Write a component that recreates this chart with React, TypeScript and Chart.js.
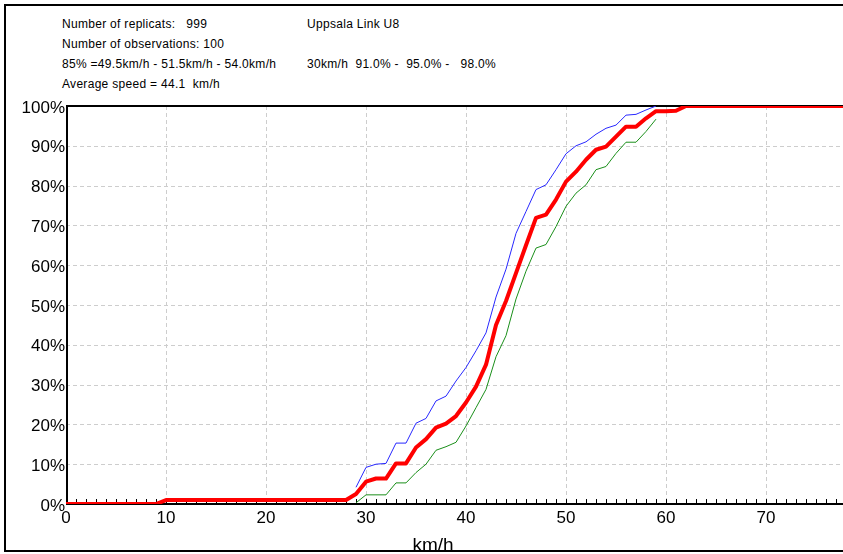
import React, { useEffect, useRef } from "react";
import { Chart, registerables } from "chart.js";

Chart.register(...registerables);

// ---- data ----
const medianSpeeds = [0, 9, 10, 28, 29, 30, 31, 32, 33, 34, 35, 36, 37, 38, 39, 40, 41, 42, 43, 44, 45, 46, 47, 48, 49, 50, 51, 52, 53, 54, 55, 56, 57, 58, 59, 60, 61, 62, 78];
const medianValues = [0, 0, 1, 1, 2.5, 5.6, 6.4, 6.4, 10.2, 10.2, 14.2, 16.3, 19.2, 20.2, 22.1, 25.5, 29.5, 35, 45, 51, 58, 65, 71.9, 72.7, 76.5, 81, 83.5, 86.5, 89, 89.8, 92.3, 94.8, 94.8, 96.9, 98.7, 98.7, 98.8, 100, 100];

const boundSpeeds = [29, 30, 31, 32, 33, 34, 35, 36, 37, 38, 39, 40, 41, 42, 43, 44, 45, 46, 47, 48, 49, 50, 51, 52, 53, 54, 55, 56, 57, 58, 59];
const upperValues = [4.2, 9.2, 10, 10.2, 15.3, 15.3, 20.3, 21.5, 25.9, 27.1, 30.9, 34.3, 38.5, 43, 52, 59, 68, 73.5, 79, 80.2, 84, 88, 90, 91, 92.9, 94.4, 95.2, 97.7, 97.9, 99, 100];
const lowerValues = [0.3, 2.3, 2.3, 2.3, 5.3, 5.3, 7.9, 10, 13.5, 14.4, 15.5, 19.6, 24.2, 28.8, 37, 42.3, 51.5, 58.5, 64.3, 65.2, 69.7, 74.8, 78.1, 80.2, 84, 84.8, 88.1, 90.9, 90.9, 93.6, 96.7];

const xTickValues = [0, 10, 20, 30, 40, 50, 60, 70];
const yTickValues = [0, 10, 20, 30, 40, 50, 60, 70, 80, 90, 100];
const xMinorTicks = [0, 1, 2, 3, 4, 5, 6, 7, 8, 9, 10, 11, 12, 13, 14, 15, 16, 17, 18, 19, 20, 21, 22, 23, 24, 25, 26, 27, 28, 29, 30, 31, 32, 33, 34, 35, 36, 37, 38, 39, 40, 41, 42, 43, 44, 45, 46, 47, 48, 49, 50, 51, 52, 53, 54, 55, 56, 57, 58, 59, 60, 61, 62, 63, 64, 65, 66, 67, 68, 69, 70, 71, 72, 73, 74, 75, 76, 77];

const headerLeft = [
  "Number of replicats:   999",
  "Number of observations: 100",
  "85% =49.5km/h - 51.5km/h - 54.0km/h",
  "Average speed = 44.1  km/h",
];
const headerRight = ["Uppsala Link U8", "", "30km/h  91.0% -  95.0% -   98.0%", ""];
const xTitle = "km/h";

const FONT = '"Liberation Sans", Arial, sans-serif';

const framePlugin = {
  id: "framePlugin",
  beforeDatasetsDraw(chart: any) {
    const { ctx, chartArea } = chart;
    const xs = chart.scales.x;
    const ys = chart.scales.y;
    const { left, top, right, bottom } = chartArea;
    ctx.save();
    // dashed grid
    ctx.strokeStyle = "#cdcdcd";
    ctx.lineWidth = 1;
    ctx.setLineDash([4, 3]);
    xTickValues.forEach((v) => {
      if (v === 0) return;
      const px = Math.round(xs.getPixelForValue(v)) + 0.5;
      ctx.beginPath();
      ctx.moveTo(px, top);
      ctx.lineTo(px, bottom);
      ctx.stroke();
    });
    yTickValues.forEach((v) => {
      if (v === 0 || v === 100) return;
      const py = Math.round(ys.getPixelForValue(v)) + 0.5;
      ctx.beginPath();
      ctx.moveTo(left, py);
      ctx.lineTo(right, py);
      ctx.stroke();
    });
    ctx.setLineDash([]);
    // minor ticks on x axis
    ctx.strokeStyle = "#000";
    ctx.lineWidth = 1;
    xMinorTicks.forEach((v) => {
      const px = Math.round(xs.getPixelForValue(v)) + 0.5;
      ctx.beginPath();
      ctx.moveTo(px, bottom);
      ctx.lineTo(px, bottom - 5);
      ctx.stroke();
    });
    // axis frame
    ctx.lineWidth = 2;
    ctx.beginPath();
    ctx.moveTo(left + 1, bottom);
    ctx.lineTo(left + 1, top);
    ctx.lineTo(right, top);
    ctx.stroke();
    ctx.beginPath();
    ctx.moveTo(left, bottom);
    ctx.lineTo(right, bottom);
    ctx.stroke();
    ctx.restore();
  },
};

export default function App() {
  const canvasRef = useRef<HTMLCanvasElement | null>(null);

  useEffect(() => {
    const canvas = canvasRef.current;
    if (!canvas) return;
    const chart = new Chart(canvas, {
      type: "line",
      data: {
        datasets: [
          {
            label: "median",
            data: medianSpeeds.map((s, i) => ({ x: s, y: medianValues[i] })),
            borderColor: "#ff0000",
            borderWidth: 4,
            pointRadius: 0,
            tension: 0,
            borderJoinStyle: "round",
            borderCapStyle: "round",
            order: 0,
          },
          {
            label: "upper",
            data: boundSpeeds.map((s, i) => ({ x: s, y: upperValues[i] })),
            borderColor: "#2828ff",
            borderWidth: 1,
            pointRadius: 0,
            tension: 0,
            order: 1,
          },
          {
            label: "lower",
            data: boundSpeeds.map((s, i) => ({ x: s, y: lowerValues[i] })),
            borderColor: "#1a8f1a",
            borderWidth: 1,
            pointRadius: 0,
            tension: 0,
            order: 2,
          },
        ],
      },
      options: {
        responsive: false,
        animation: false,
        layout: { padding: { top: 106, left: 0, right: 0, bottom: 0 } },
        plugins: { legend: { display: false }, tooltip: { enabled: false } },
        scales: {
          x: {
            type: "linear",
            min: 0,
            max: 77.7,
            afterFit: (s: any) => {
              s.height = 50;
            },
            grid: { display: false, drawTicks: false },
            border: { display: false },
            ticks: {
              stepSize: 10,
              includeBounds: false,
              autoSkip: false,
              maxRotation: 0,
              padding: 4,
              color: "#000",
              font: { family: FONT, size: 17 },
              callback: (v: any) => String(v),
            },
          },
          y: {
            type: "linear",
            min: 0,
            max: 100,
            afterFit: (s: any) => {
              s.width = 66;
            },
            grid: { display: false, drawTicks: false },
            border: { display: false },
            ticks: {
              stepSize: 10,
              padding: 1,
              labelOffset: 2,
              color: "#000",
              font: { family: FONT, size: 17 },
              callback: (v: any) => v + "%",
            },
          },
        },
      },
      plugins: [framePlugin],
    } as any);
    return () => chart.destroy();
  }, []);

  const textStyle: React.CSSProperties = {
    position: "absolute",
    fontFamily: FONT,
    fontSize: 12,
    lineHeight: "12px",
    letterSpacing: "0.3px",
    whiteSpace: "pre",
    color: "#000",
  };

  return (
    <div
      style={{
        position: "fixed",
        left: 0,
        top: 0,
        width: 843,
        height: 554,
        overflow: "hidden",
        background: "#fff",
      }}
    >
      <div
        style={{
          position: "absolute",
          left: 4,
          top: 4,
          width: 900,
          height: 544,
          borderLeft: "2px solid #000",
          borderTop: "2px solid #000",
          borderBottom: "2px solid #000",
        }}
      />
      {headerLeft.map((t, i) => (
        <div key={"l" + i} style={{ ...textStyle, left: 62, top: 18 + i * 20 }}>
          {t}
        </div>
      ))}
      {headerRight.map((t, i) =>
        t ? (
          <div key={"r" + i} style={{ ...textStyle, left: 307, top: 18 + i * 20 }}>
            {t}
          </div>
        ) : null
      )}
      <canvas
        ref={canvasRef}
        width={843}
        height={554}
        style={{ position: "absolute", left: 0, top: 0, width: 843, height: 554 }}
      />
      <div
        style={{
          position: "absolute",
          left: 0,
          width: 866,
          top: 535,
          textAlign: "center",
          fontFamily: FONT,
          fontSize: 19,
          lineHeight: "19px",
          color: "#000",
        }}
      >
        {xTitle}
      </div>
    </div>
  );
}
